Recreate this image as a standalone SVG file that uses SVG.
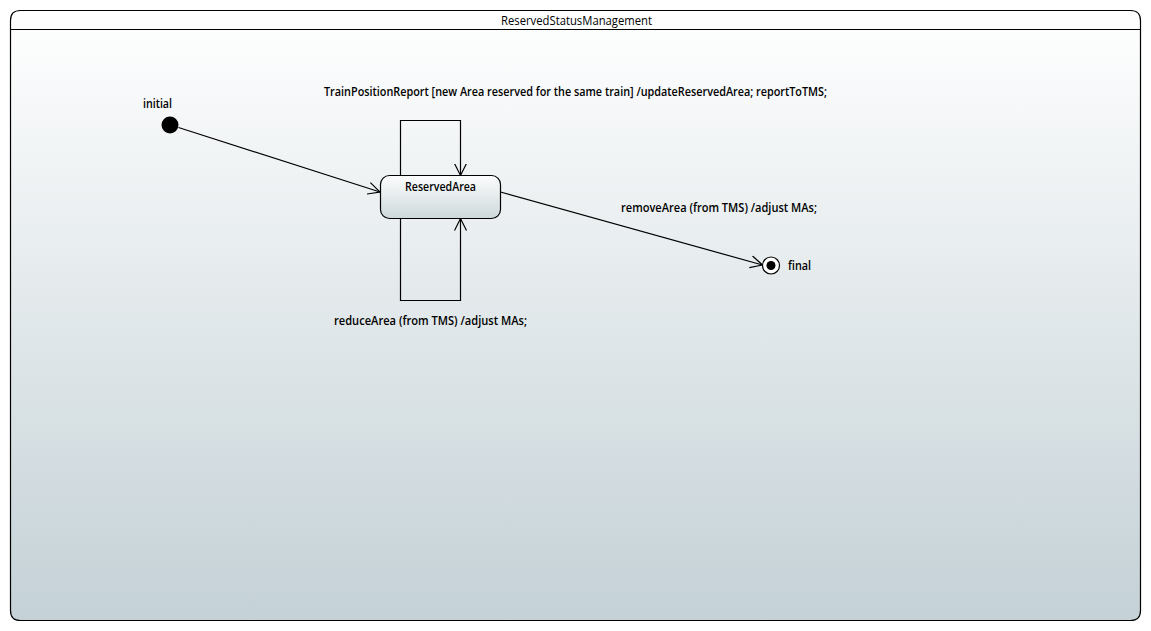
<svg xmlns="http://www.w3.org/2000/svg" width="1151" height="631" viewBox="0 0 1151 631">
<style>
.lbl{font-family:"Open Sans","Liberation Sans",sans-serif;font-size:12px;font-weight:600;fill:#000}
.ttl{font-family:"Open Sans","Liberation Sans",sans-serif;font-size:12px;fill:#000}
.edge{fill:none;stroke:#000;stroke-width:1.2}
</style>
<defs>
<linearGradient id="bg" x1="0" y1="0" x2="0" y2="1">
<stop offset="0" stop-color="#ffffff"/>
<stop offset="1" stop-color="#c4d1d6"/>
</linearGradient>
<linearGradient id="st" x1="0" y1="0" x2="0" y2="1">
<stop offset="0" stop-color="#fcfdfd"/>
<stop offset="1" stop-color="#cdd8db"/>
</linearGradient>
<marker id="arr" markerUnits="userSpaceOnUse" markerWidth="14" markerHeight="14" refX="12" refY="6" orient="auto" viewBox="0 0 14 12">
<path d="M0,0 L12,6 L0,12" fill="none" stroke="#000" stroke-width="1.2"/>
</marker>
</defs>
<g id="frame">
<path d="M10.5,20.5 Q10.5,10.5 20.5,10.5 L1130.5,10.5 Q1140.5,10.5 1140.5,20.5 L1140.5,610.5 Q1140.5,620.5 1130.5,620.5 L20.5,620.5 Q10.5,620.5 10.5,610.5 Z" fill="url(#bg)" stroke="#000" stroke-width="1.2"/>
<path d="M10.5,10.5 H1140.5 V29.5 H10.5 Z" fill="none" stroke="none"/>
<line x1="10.5" y1="29.5" x2="1140.5" y2="29.5" stroke="#000" stroke-width="1.2"/>
<text class="ttl" x="576.5" y="25" text-anchor="middle" textLength="151" lengthAdjust="spacingAndGlyphs">ReservedStatusManagement</text>
</g>
<g id="connectors">
<line class="edge" x1="178.5" y1="127.5" x2="380" y2="192" marker-end="url(#arr)"/>
<polyline class="edge" points="400.5,175.5 400.5,120.5 460.5,120.5 460.5,175.5" marker-end="url(#arr)"/>
<polyline class="edge" points="400.5,218.5 400.5,300.5 460.5,300.5 460.5,218.5" marker-end="url(#arr)"/>
<line class="edge" x1="500.5" y1="192" x2="762.5" y2="265" marker-end="url(#arr)"/>
<text class="lbl" x="324" y="96" textLength="503" lengthAdjust="spacingAndGlyphs">TrainPositionReport [new Area reserved for the same train] /updateReservedArea; reportToTMS;</text>
<text class="lbl" x="334" y="325" textLength="193" lengthAdjust="spacingAndGlyphs">reduceArea (from TMS) /adjust MAs;</text>
<text class="lbl" x="621" y="212" textLength="196" lengthAdjust="spacingAndGlyphs">removeArea (from TMS) /adjust MAs;</text>
</g>
<g id="initial">
<circle cx="170" cy="125" r="8.5" fill="#000"/>
<text class="lbl" x="143" y="108" textLength="29" lengthAdjust="spacingAndGlyphs">initial</text>
</g>
<g id="ReservedArea">
<rect x="380.5" y="175.5" width="120" height="43" rx="9" ry="9" fill="url(#st)" stroke="#000" stroke-width="1.2"/>
<text class="lbl" x="440.5" y="191" text-anchor="middle" textLength="71" lengthAdjust="spacingAndGlyphs">ReservedArea</text>
</g>
<g id="final">
<circle cx="771" cy="265.5" r="8.5" fill="#fff" stroke="#000" stroke-width="1.2"/>
<circle cx="771" cy="265.5" r="4.5" fill="#000"/>
<text class="lbl" x="788" y="270" textLength="23" lengthAdjust="spacingAndGlyphs">final</text>
</g>
</svg>
